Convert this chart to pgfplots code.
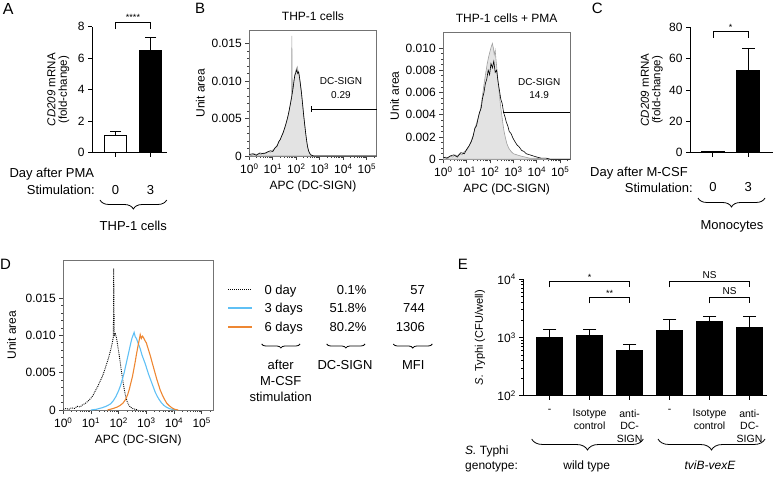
\documentclass[border=0pt]{standalone}
\usepackage{fontspec}
\setmainfont{Liberation Sans}
\usepackage{pgfplots}
\pgfplotsset{compat=1.18}
\usetikzlibrary{decorations.pathreplacing}
\definecolor{cblue}{RGB}{95,192,245}
\definecolor{corange}{RGB}{238,135,50}
\newcommand{\fs}[1]{\fontsize{#1}{#1}\selectfont}
\pgfplotsset{
  every axis/.append style={scale only axis, anchor=south west, clip=false,
    font=\fs{12}, /pgf/number format/assume math mode=true,
    scaled y ticks=false, scaled x ticks=false,
    tick align=outside, major tick length=4pt, minor tick length=2pt,
    every tick label/.append style={font=\fs{12}},
    label style={font=\fs{12}}},
  barax/.style={axis x line*=bottom, axis y line*=left,
    axis line style={line width=1pt,-}, every tick/.style={line width=1pt,black}},
  errstyle/.style={error bars/.cd, y dir=plus, y explicit, error mark=none,
    error bar style={line width=1pt,black}},
  capstyle/.style={only marks, mark=-, black, mark size=#1, mark options={line width=1pt}},
  histax/.style={axis line style={black!55,line width=0.8pt},
    every tick/.style={black!75,line width=0.7pt},
    xtick pos=bottom, ytick pos=left, xmin=0, xmax=5.42, ymin=0,
    xtick={0,1,2,3,4,5},
    xticklabels={10\textsuperscript{0},10\textsuperscript{1},10\textsuperscript{2},10\textsuperscript{3},10\textsuperscript{4},10\textsuperscript{5}},
    minor xtick={0.301,0.477,0.602,0.699,0.778,0.845,0.903,0.954,1.301,1.477,1.602,1.699,1.778,1.845,1.903,1.954,2.301,2.477,2.602,2.699,2.778,2.845,2.903,2.954,3.301,3.477,3.602,3.699,3.778,3.845,3.903,3.954,4.301,4.477,4.602,4.699,4.778,4.845,4.903,4.954,5.301},
    xlabel={APC (DC-SIGN)}, ylabel={Unit area},
    title style={font=\fs{12}}},
}
\begin{document}
\begin{tikzpicture}
\path[use as bounding box] (0pt,0pt) rectangle (777pt,482pt);

% ---------------- Panel A
\begin{axis}[barax, at={(92pt,329.3pt)}, width=75pt, height=126pt,
  xmin=-0.671, xmax=1.471, ymin=0, ymax=8, ytick={0,2,4,6,8},
  xtick={0,1}, xticklabels={0,3}, xticklabel style={yshift=-25pt, font=\fs{13}},
  ylabel={\textit{CD209} mRNA\\(fold-change)},
  ylabel style={at={(axis description cs:-0.45,0.5)}, anchor=center, align=center, font=\fs{11.5}}]
\addplot[ybar, bar width=22.5pt, fill=white, draw=black, line width=1pt, errstyle]
  coordinates {(0,1.09) +- (0,0.26)};
\addplot[ybar, bar width=22.5pt, fill=black, draw=black, line width=1pt, errstyle]
  coordinates {(1,6.52) +- (0,0.81)};
\addplot[capstyle=5.8pt] coordinates {(0,1.35) (1,7.33)};
\draw[line width=0.8pt] (axis cs:0,7.85) -- (axis cs:0,8.3) -- (axis cs:1,8.3) -- (axis cs:1,7.85);
\node[font=\fs{9}, anchor=base] at ([yshift=1pt]axis cs:0.5,8.3) {****};
\end{axis}

% ---------------- Panel B left
\begin{axis}[histax, at={(249.3pt,326pt)}, width=127.4pt, height=126pt,
  ymax=0.0168, ytick={0,0.005,0.010,0.015}, yticklabels={0,0.005,0.010,0.015},
  minor y tick num=4, title={THP-1 cells},
  ylabel style={at={(axis description cs:-0.385,0.5)}, anchor=center}]
\addplot[fill=gray!22, draw=gray!75, line width=0.6pt] table {
0.00 0.0002
0.10 0.0001
0.20 0.0003
0.30 0.0002
0.40 0.0003
0.50 0.0002
0.60 0.0004
0.70 0.0003
0.80 0.0006
0.90 0.0005
1.00 0.0008
1.08 0.0010
1.15 0.0013
1.22 0.0016
1.28 0.0020
1.34 0.0024
1.40 0.0028
1.46 0.0033
1.52 0.0038
1.58 0.0045
1.64 0.0052
1.70 0.0062
1.76 0.0072
1.80 0.0080
1.81 0.0160
1.83 0.0085
1.88 0.0095
1.92 0.0105
1.96 0.0112
2.00 0.0116
2.04 0.0119
2.08 0.0113
2.12 0.0108
2.16 0.0100
2.20 0.0090
2.25 0.0076
2.30 0.0060
2.35 0.0045
2.40 0.0030
2.45 0.0018
2.50 0.0009
2.55 0.0004
2.62 0.0001
2.70 0.0000
5.42 0.0000
} \closedcycle;
\addplot[black, line width=0.6pt] table {
0.00 0.0002
0.15 0.0003
0.30 0.0001
0.45 0.0004
0.60 0.0003
0.75 0.0005
0.90 0.0007
1.00 0.0006
1.10 0.0011
1.18 0.0013
1.25 0.0019
1.32 0.0022
1.38 0.0027
1.44 0.0031
1.50 0.0037
1.56 0.0043
1.62 0.0050
1.68 0.0058
1.74 0.0068
1.80 0.0078
1.86 0.0090
1.90 0.0100
1.94 0.0108
1.98 0.0111
2.02 0.0115
2.06 0.0110
2.10 0.0112
2.14 0.0104
2.18 0.0094
2.22 0.0084
2.27 0.0068
2.32 0.0052
2.37 0.0038
2.42 0.0025
2.47 0.0014
2.52 0.0007
2.58 0.0003
2.65 0.0001
2.75 0.0000
5.42 0.0000
};
\draw[line width=0.8pt] (axis cs:2.66,0.00627) -- (axis cs:5.42,0.00627);
\draw[line width=0.8pt] ([yshift=-3pt]axis cs:2.66,0.00627) -- ([yshift=3pt]axis cs:2.66,0.00627);
\node[font=\fs{10}] at (axis cs:3.9,0.0100) {DC-SIGN};
\node[font=\fs{10}] at (axis cs:3.9,0.0081) {0.29};
\end{axis}

% ---------------- Panel B right
\begin{axis}[histax, at={(443.3pt,322.7pt)}, width=126.7pt, height=127pt,
  ymax=0.0114, ytick={0,0.002,0.004,0.006,0.008,0.010},
  yticklabels={0,0.002,0.004,0.006,0.008,0.010},
  minor y tick num=3, title={THP-1 cells + PMA},
  ylabel style={at={(axis description cs:-0.385,0.5)}, anchor=center}]
\addplot[fill=gray!22, draw=gray!75, line width=0.6pt] table {
0.00 0.0001
0.10 0.0002
0.20 0.0001
0.30 0.0003
0.40 0.0002
0.50 0.0004
0.60 0.0003
0.70 0.0005
0.80 0.0004
0.90 0.0007
1.00 0.0008
1.08 0.0011
1.15 0.0014
1.22 0.0018
1.28 0.0022
1.34 0.0026
1.40 0.0031
1.46 0.0035
1.52 0.0040
1.58 0.0044
1.64 0.0052
1.70 0.0061
1.76 0.0070
1.82 0.0078
1.88 0.0086
1.94 0.0092
2.00 0.0097
2.05 0.0101
2.10 0.0104
2.14 0.0100
2.18 0.0094
2.22 0.0098
2.26 0.0088
2.30 0.0080
2.35 0.0068
2.40 0.0058
2.45 0.0048
2.50 0.0040
2.55 0.0032
2.60 0.0025
2.66 0.0019
2.72 0.0014
2.80 0.0010
2.90 0.0007
3.00 0.0005
3.15 0.0004
3.30 0.0003
3.50 0.0002
3.70 0.0001
4.00 0.0001
4.30 0.0000
5.42 0.0000
} \closedcycle;
\addplot[black, line width=0.6pt] table {
0.00 0.0002
0.15 0.0001
0.30 0.0003
0.45 0.0004
0.60 0.0002
0.75 0.0006
0.90 0.0005
1.00 0.0009
1.10 0.0012
1.20 0.0016
1.28 0.0021
1.35 0.0028
1.42 0.0030
1.48 0.0036
1.55 0.0042
1.62 0.0046
1.68 0.0055
1.74 0.0060
1.80 0.0068
1.86 0.0072
1.92 0.0080
1.98 0.0076
2.04 0.0086
2.10 0.0082
2.16 0.0088
2.22 0.0078
2.28 0.0080
2.34 0.0070
2.40 0.0062
2.46 0.0054
2.52 0.0050
2.58 0.0042
2.64 0.0038
2.70 0.0033
2.76 0.0030
2.82 0.0025
2.90 0.0023
2.98 0.0019
3.06 0.0016
3.15 0.0013
3.25 0.0011
3.35 0.0008
3.45 0.0007
3.55 0.0005
3.70 0.0004
3.85 0.0003
4.00 0.0002
4.20 0.0001
4.40 0.0001
4.60 0.0000
5.42 0.0000
};
\draw[line width=0.8pt] (axis cs:2.55,0.00424) -- (axis cs:5.42,0.00424);
\node[font=\fs{10}] at (axis cs:4.1,0.00693) {DC-SIGN};
\node[font=\fs{10}] at (axis cs:4.1,0.00576) {14.9};
\end{axis}

% ---------------- Panel C
\begin{axis}[barax, at={(690pt,329.3pt)}, width=83pt, height=125.4pt,
  xmin=-0.65, xmax=1.70, ymin=0, ymax=80, ytick={0,20,40,60,80},
  xtick={0,1}, xticklabels={0,3}, xticklabel style={yshift=-22pt, font=\fs{13}},
  ylabel={\textit{CD209} mRNA\\(fold-change)},
  ylabel style={at={(axis description cs:-0.46,0.5)}, anchor=center, align=center, font=\fs{11.5}}]
\addplot[ybar, bar width=22.7pt, fill=white, draw=black, line width=1pt, errstyle]
  coordinates {(0,1.0) +- (0,0.2)};
\addplot[ybar, bar width=22.7pt, fill=black, draw=black, line width=1pt, errstyle]
  coordinates {(1,52.4) +- (0,13.8)};
\addplot[capstyle=6.3pt] coordinates {(1,66.2)};
\draw[line width=0.8pt] (axis cs:0,73.4) -- (axis cs:0,77.2) -- (axis cs:1,77.2) -- (axis cs:1,73.4);
\node[font=\fs{9}, anchor=base] at ([yshift=1pt]axis cs:0.5,77.2) {*};
\end{axis}

% ---------------- Panel D
\begin{axis}[histax, at={(63.3pt,72pt)}, width=150pt, height=150pt,
  ymax=0.0201, ytick={0,0.005,0.010,0.015}, yticklabels={0,0.005,0.010,0.015},
  minor y tick num=4,
  ylabel style={at={(axis description cs:-0.344,0.5)}, anchor=center}]
\addplot[black, densely dotted, line width=0.9pt] table {
0.00 0.0001
0.10 0.0002
0.20 0.0001
0.30 0.0003
0.40 0.0002
0.50 0.0005
0.60 0.0004
0.70 0.0007
0.80 0.0009
0.90 0.0012
1.00 0.0016
1.08 0.0020
1.16 0.0026
1.24 0.0031
1.32 0.0038
1.40 0.0044
1.48 0.0052
1.55 0.0060
1.62 0.0068
1.68 0.0076
1.74 0.0085
1.78 0.0092
1.81 0.0098
1.82 0.0190
1.84 0.0100
1.88 0.0102
1.92 0.0097
1.96 0.0088
2.00 0.0078
2.05 0.0066
2.10 0.0052
2.15 0.0040
2.20 0.0028
2.25 0.0019
2.30 0.0012
2.36 0.0007
2.42 0.0004
2.50 0.0002
2.60 0.0001
2.70 0.0000
};
\addplot[cblue, line width=1.1pt] table {
1.00 0.0000
1.20 0.0001
1.40 0.0003
1.55 0.0005
1.70 0.0008
1.80 0.0012
1.90 0.0018
2.00 0.0026
2.07 0.0033
2.14 0.0042
2.20 0.0050
2.26 0.0060
2.32 0.0070
2.38 0.0080
2.44 0.0090
2.48 0.0096
2.52 0.0100
2.56 0.0104
2.60 0.0098
2.64 0.0096
2.68 0.0092
2.72 0.0088
2.78 0.0082
2.84 0.0074
2.90 0.0068
2.96 0.0062
3.02 0.0055
3.08 0.0048
3.14 0.0042
3.20 0.0036
3.26 0.0030
3.32 0.0024
3.40 0.0018
3.48 0.0013
3.56 0.0009
3.64 0.0006
3.72 0.0004
3.82 0.0002
3.92 0.0001
4.10 0.0000
};
\addplot[corange, line width=1.1pt] table {
1.60 0.0000
1.80 0.0002
1.95 0.0004
2.05 0.0006
2.15 0.0009
2.25 0.0014
2.32 0.0020
2.38 0.0027
2.44 0.0036
2.50 0.0045
2.55 0.0055
2.60 0.0065
2.65 0.0076
2.70 0.0086
2.75 0.0095
2.78 0.0101
2.82 0.0096
2.86 0.0099
2.90 0.0097
2.95 0.0093
3.00 0.0090
3.05 0.0084
3.10 0.0078
3.15 0.0072
3.20 0.0065
3.26 0.0057
3.32 0.0049
3.38 0.0041
3.44 0.0034
3.50 0.0027
3.58 0.0020
3.66 0.0014
3.74 0.0009
3.82 0.0006
3.92 0.0003
4.02 0.0001
4.15 0.0000
};
\end{axis}

% ---------------- Panel E
\begin{axis}[barax, at={(523.3pt,86pt)}, width=243.4pt, height=116.7pt,
  ymode=log, log origin=infty, ymin=100, ymax=10000,
  ytick={100,1000,10000},
  yticklabels={10\textsuperscript{2},10\textsuperscript{3},10\textsuperscript{4}},
  xmin=-0.66, xmax=5.43, xtick={0,1,2,3,4,5},
  xticklabels={{-},{Isotype\\control},{anti-\\DC-\\SIGN},{-},{Isotype\\control},{anti-\\DC-\\SIGN}},
  xticklabel style={align=center, font=\fontsize{10.5}{12.5}\selectfont, anchor=north, yshift=-6pt},
  ylabel={\textit{S.} Typhi (CFU/well)},
  ylabel style={at={(axis description cs:-0.178,0.5)}, anchor=center, font=\fs{11}}]
\addplot[ybar, bar width=26pt, fill=black, draw=black, line width=1pt, errstyle]
  coordinates {(0,1020) +- (0,370) (1,1070) +- (0,320) (2,608) +- (0,162)
               (3,1320) +- (0,750) (4,1880) +- (0,410) (5,1485) +- (0,805)};
\addplot[capstyle=6.7pt] coordinates {(0,1390) (1,1390) (2,770) (3,2070) (4,2290) (5,2290)};
\draw[line width=0.8pt] (axis cs:0,7300) -- (axis cs:0,9100) -- (axis cs:2,9100) -- (axis cs:2,7300);
\draw[line width=0.8pt] (axis cs:1,3870) -- (axis cs:1,4830) -- (axis cs:2,4830) -- (axis cs:2,3870);
\draw[line width=0.8pt] (axis cs:3,7300) -- (axis cs:3,9100) -- (axis cs:5,9100) -- (axis cs:5,7300);
\draw[line width=0.8pt] (axis cs:4,3870) -- (axis cs:4,4830) -- (axis cs:5,4830) -- (axis cs:5,3870);
\node[font=\fs{9}, anchor=base] at ([yshift=1pt]axis cs:1,9100) {*};
\node[font=\fs{9}, anchor=base] at ([yshift=1pt]axis cs:1.5,4830) {**};
\node[font=\fs{10}, anchor=base] at ([yshift=3pt]axis cs:4,9100) {NS};
\node[font=\fs{10}, anchor=base] at ([yshift=3pt]axis cs:4.5,4830) {NS};
\end{axis}

% ---------------- annotations (pixel coordinates, y downwards)
\begin{scope}[x=1pt, y=-1pt, shift={(0pt,482pt)}]
\node[font=\fs{16}, anchor=base west, inner sep=0pt] at (2.7,15) {A};
\node[font=\fs{15}, anchor=base west, inner sep=0pt] at (195,13.5) {B};
\node[font=\fs{15}, anchor=base west, inner sep=0pt] at (591.7,13.5) {C};
\node[font=\fs{15}, anchor=base west, inner sep=0pt] at (0,270) {D};
\node[font=\fs{15}, anchor=base west, inner sep=0pt] at (457.7,270) {E};
% A
\node[font=\fs{13}, anchor=base west, inner sep=0pt] at (9.3,177.6) {Day after PMA};
\node[font=\fs{13}, anchor=base east, inner sep=0pt] at (95,194.3) {Stimulation:};
\draw[line width=0.8pt, decorate, decoration={brace, mirror, amplitude=9pt}] (100,200) -- (166.7,200);
\node[font=\fs{13}, anchor=base, inner sep=0pt] at (133.3,231) {THP-1 cells};
% C
\node[font=\fs{13}, anchor=base west, inner sep=0pt] at (590,176.3) {Day after M-CSF};
\node[font=\fs{13}, anchor=base east, inner sep=0pt] at (693,192.3) {Stimulation:};
\draw[line width=0.8pt, decorate, decoration={brace, mirror, amplitude=9pt}] (698,198) -- (765,198);
\node[font=\fs{13}, anchor=base, inner sep=0pt] at (732,229.3) {Monocytes};
% D legend and table
\draw[black, densely dotted, line width=1pt] (228.3,290) -- (251.7,290);
\draw[cblue, line width=2pt] (228.3,308.5) -- (251.7,308.5);
\draw[corange, line width=2pt] (228.3,327.5) -- (251.7,327.5);
\node[font=\fs{13}, anchor=base west, inner sep=0pt] at (264.3,294.3) {0 day};
\node[font=\fs{13}, anchor=base west, inner sep=0pt] at (264.3,312.6) {3 days};
\node[font=\fs{13}, anchor=base west, inner sep=0pt] at (264.3,332) {6 days};
\node[font=\fs{13}, anchor=base east, inner sep=0pt] at (366.7,294.3) {0.1\%};
\node[font=\fs{13}, anchor=base east, inner sep=0pt] at (366.7,312.6) {51.8\%};
\node[font=\fs{13}, anchor=base east, inner sep=0pt] at (366.7,332) {80.2\%};
\node[font=\fs{13}, anchor=base east, inner sep=0pt] at (425,294.3) {57};
\node[font=\fs{13}, anchor=base east, inner sep=0pt] at (425,312.6) {744};
\node[font=\fs{13}, anchor=base east, inner sep=0pt] at (425,332) {1306};
\draw[line width=0.8pt, decorate, decoration={brace, mirror, amplitude=4pt}] (261.7,344) -- (300,344);
\draw[line width=0.8pt, decorate, decoration={brace, mirror, amplitude=4pt}] (326.7,344) -- (365,344);
\draw[line width=0.8pt, decorate, decoration={brace, mirror, amplitude=4pt}] (393.3,344) -- (432.3,344);
\node[font=\fs{13}, anchor=base, inner sep=0pt] at (280.7,369.3) {after};
\node[font=\fs{13}, anchor=base, inner sep=0pt] at (280.7,386) {M-CSF};
\node[font=\fs{13}, anchor=base, inner sep=0pt] at (280.7,402) {stimulation};
\node[font=\fs{13}, anchor=base, inner sep=0pt] at (345,369.3) {DC-SIGN};
\node[font=\fs{13}, anchor=base, inner sep=0pt] at (413.3,369.3) {MFI};
% E
\draw[line width=0.8pt, decorate, decoration={brace, mirror, amplitude=11pt}] (531.7,439) -- (643.3,439);
\draw[line width=0.8pt, decorate, decoration={brace, mirror, amplitude=11pt}] (658,439) -- (765,439);
\node[font=\fs{12}, anchor=base west, inner sep=0pt] at (465,454.3) {\textit{S.} Typhi};
\node[font=\fs{12}, anchor=base west, inner sep=0pt] at (465,469.3) {genotype:};
\node[font=\fs{12}, anchor=base, inner sep=0pt] at (586.7,469.3) {wild type};
\node[font=\fs{12}, anchor=base, inner sep=0pt] at (710,469.3) {\textit{tviB-vexE}};
\end{scope}
\end{tikzpicture}
\end{document}
